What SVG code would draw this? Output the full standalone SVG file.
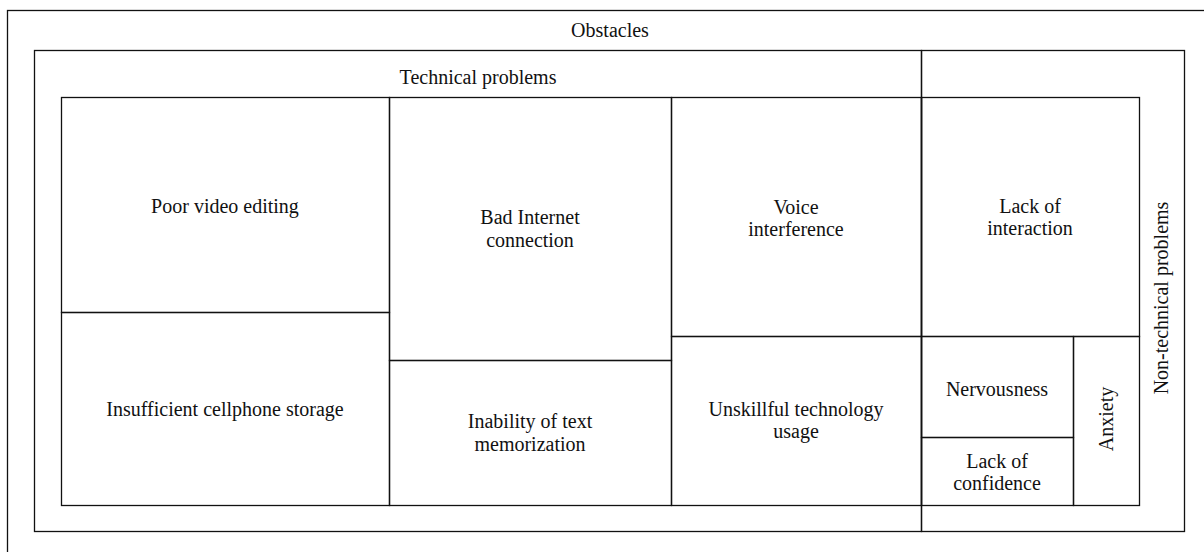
<svg xmlns="http://www.w3.org/2000/svg" width="1204" height="552" viewBox="0 0 1204 552">
<style>
rect{fill:none;stroke:#111;stroke-width:1.3}
text{font-family:"Liberation Serif","Times New Roman",serif;font-size:20px;fill:#111;text-anchor:middle}
</style>
<rect x="0" y="0" width="1204" height="552" style="fill:#fff;stroke:none"/>
<g id="obstacles">
<rect x="7.5" y="10.5" width="1220" height="570"/>
<text x="610" y="37">Obstacles</text>
</g>
<g id="technical-problems">
<rect x="34.5" y="50.5" width="887" height="481"/>
<text x="478" y="84">Technical problems</text>
</g>
<g id="non-technical-problems">
<rect x="921.5" y="50.5" width="263" height="481"/>
<text transform="translate(1168,298) rotate(-90)">Non-technical problems</text>
</g>
<g id="poor-video-editing">
<rect x="61.5" y="97.5" width="328" height="215"/>
<text x="225" y="213">Poor video editing</text>
</g>
<g id="insufficient-cellphone-storage">
<rect x="61.5" y="312.5" width="328" height="193"/>
<text x="225" y="416">Insufficient cellphone storage</text>
</g>
<g id="bad-internet-connection">
<rect x="389.5" y="97.5" width="282" height="263"/>
<text x="530" y="224">Bad Internet</text>
<text x="530" y="247">connection</text>
</g>
<g id="inability-of-text-memorization">
<rect x="389.5" y="360.5" width="282" height="145"/>
<text x="530" y="428">Inability of text</text>
<text x="530" y="451">memorization</text>
</g>
<g id="voice-interference">
<rect x="671.5" y="97.5" width="250" height="239"/>
<text x="796" y="214">Voice</text>
<text x="796" y="236">interference</text>
</g>
<g id="unskillful-technology-usage">
<rect x="671.5" y="336.5" width="250" height="169"/>
<text x="796" y="416">Unskillful technology</text>
<text x="796" y="438">usage</text>
</g>
<g id="lack-of-interaction">
<rect x="921.5" y="97.5" width="218" height="239"/>
<text x="1030" y="213">Lack of</text>
<text x="1030" y="235">interaction</text>
</g>
<g id="nervousness">
<rect x="921.5" y="336.5" width="152" height="101"/>
<text x="997" y="396">Nervousness</text>
</g>
<g id="lack-of-confidence">
<rect x="921.5" y="437.5" width="152" height="68"/>
<text x="997" y="468">Lack of</text>
<text x="997" y="490">confidence</text>
</g>
<g id="anxiety">
<rect x="1073.5" y="336.5" width="66" height="169"/>
<text transform="translate(1113,419) rotate(-90)">Anxiety</text>
</g>
<g id="connectors"></g>
</svg>
